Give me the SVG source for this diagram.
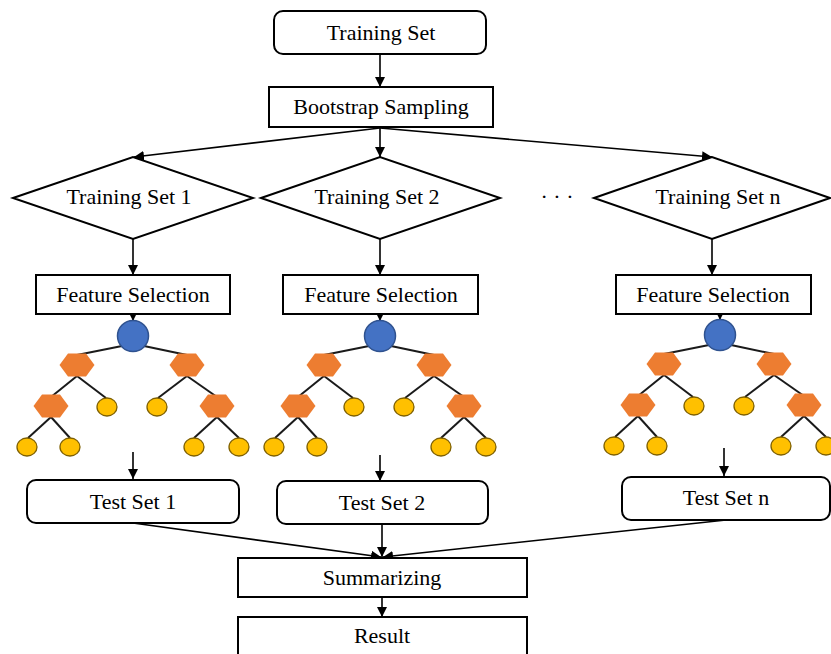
<svg xmlns="http://www.w3.org/2000/svg" width="831" height="654" viewBox="0 0 831 654">
  <style>
    .box { fill: #ffffff; stroke: #000000; stroke-width: 2; }
    .lbl { font-family: 'Liberation Serif', 'DejaVu Serif', serif; font-size: 22px; fill: #000000; text-anchor: middle; }
    .edge { fill: none; stroke: #000000; stroke-width: 1.6; }
    .branch { stroke: #1a1a1a; stroke-width: 2; }
    .root { fill: #4472C4; stroke: #2F528F; stroke-width: 1.5; }
    .split { fill: #ED7D31; }
    .leaf { fill: #FFC000; stroke: #7F6000; stroke-width: 1.3; }
  </style>
  <defs>
    <marker id="arrow" viewBox="0 0 10 10" refX="10" refY="5" markerWidth="10" markerHeight="10" markerUnits="userSpaceOnUse" orient="auto">
      <path d="M0,0 L10,5 L0,10 z" fill="#000000"/>
    </marker>
    <polygon id="hex" points="-17.5,0 -9,-11.5 9,-11.5 17.5,0 9,11.5 -9,11.5" class="split"/>
    <ellipse id="leafNode" rx="10" ry="9" class="leaf"/>
    <!-- decision tree glyph, root centred at the origin -->
    <g id="tree">
      <g class="branch">
        <line x1="-11" y1="10" x2="-56" y2="19"/>
        <line x1="11" y1="10" x2="54" y2="19"/>
        <line x1="-56" y1="40" x2="-82" y2="61"/>
        <line x1="-56" y1="40" x2="-27" y2="62"/>
        <line x1="54" y1="40" x2="25" y2="62"/>
        <line x1="54" y1="40" x2="84" y2="61"/>
        <line x1="-82" y1="81" x2="-105" y2="102"/>
        <line x1="-82" y1="81" x2="-63" y2="102"/>
        <line x1="84" y1="81" x2="61" y2="102"/>
        <line x1="84" y1="81" x2="106" y2="102"/>
      </g>
      <circle cx="0" cy="0" r="15.5" class="root"/>
      <use href="#hex" x="-56" y="29"/>
      <use href="#hex" x="54" y="29"/>
      <use href="#hex" x="-82" y="70"/>
      <use href="#hex" x="84" y="70"/>
      <use href="#leafNode" x="-26" y="71"/>
      <use href="#leafNode" x="24" y="71"/>
      <use href="#leafNode" x="-106" y="111"/>
      <use href="#leafNode" x="-63" y="111"/>
      <use href="#leafNode" x="61" y="111"/>
      <use href="#leafNode" x="106" y="111"/>
    </g>
  </defs>

  <rect width="831" height="654" fill="#ffffff"/>

  <!-- connectors -->
  <g id="connectors" class="edge" marker-end="url(#arrow)">
    <line x1="380" y1="54" x2="380" y2="87"/>
    <line x1="380" y1="128" x2="134" y2="157"/>
    <line x1="380" y1="128" x2="380" y2="157"/>
    <line x1="380" y1="128" x2="712" y2="157"/>
    <line x1="133" y1="239" x2="133" y2="275"/>
    <line x1="380" y1="239" x2="380" y2="275"/>
    <line x1="712" y1="239" x2="712" y2="275"/>
    <line x1="133" y1="314" x2="133" y2="321"/>
    <line x1="380" y1="314" x2="380" y2="321"/>
    <line x1="720" y1="314" x2="720" y2="320"/>
    <line x1="133" y1="452" x2="133" y2="479"/>
    <line x1="380" y1="455" x2="380" y2="481"/>
    <line x1="724" y1="448" x2="724" y2="476"/>
    <line x1="133" y1="523" x2="381" y2="557"/>
    <line x1="382" y1="524" x2="382" y2="557"/>
    <line x1="726" y1="520" x2="383" y2="557"/>
    <line x1="382" y1="597" x2="382" y2="617"/>
  </g>

  <g id="training-set">
    <rect x="274" y="11" width="212" height="43" rx="9" class="box"/>
    <text x="381" y="40" class="lbl">Training Set</text>
  </g>
  <g id="bootstrap">
    <rect x="269" y="87" width="224" height="40" class="box"/>
    <text x="381" y="114" class="lbl">Bootstrap Sampling</text>
  </g>

  <g id="training-set-1">
    <polygon points="13,198 133,157 253,198 133,239" class="box"/>
    <text x="129" y="204" class="lbl">Training Set 1</text>
  </g>
  <g id="training-set-2">
    <polygon points="261,198 380,157 500,198 380,239" class="box"/>
    <text x="377" y="204" class="lbl">Training Set 2</text>
  </g>
  <g id="training-set-n">
    <polygon points="594,198 712,157 830,198 712,239" class="box"/>
    <text x="718" y="204" class="lbl">Training Set n</text>
  </g>
  <text x="557" y="204" class="lbl">· · ·</text>

  <g id="feature-selection-1">
    <rect x="36" y="275" width="194" height="39" class="box"/>
    <text x="133" y="302" class="lbl">Feature Selection</text>
  </g>
  <g id="feature-selection-2">
    <rect x="283" y="275" width="195" height="39" class="box"/>
    <text x="381" y="302" class="lbl">Feature Selection</text>
  </g>
  <g id="feature-selection-n">
    <rect x="616" y="275" width="195" height="39" class="box"/>
    <text x="713" y="302" class="lbl">Feature Selection</text>
  </g>

  <g id="tree-1"><use href="#tree" x="133" y="336"/></g>
  <g id="tree-2"><use href="#tree" x="380" y="336"/></g>
  <g id="tree-n"><use href="#tree" x="720" y="335"/></g>

  <g id="test-set-1">
    <rect x="27" y="480" width="212" height="43" rx="9" class="box"/>
    <text x="133" y="509" class="lbl">Test Set 1</text>
  </g>
  <g id="test-set-2">
    <rect x="277" y="481" width="211" height="43" rx="9" class="box"/>
    <text x="382" y="510" class="lbl">Test Set 2</text>
  </g>
  <g id="test-set-n">
    <rect x="622" y="477" width="208" height="43" rx="9" class="box"/>
    <text x="726" y="505" class="lbl">Test Set n</text>
  </g>

  <g id="summarizing">
    <rect x="238" y="558" width="289" height="39" class="box"/>
    <text x="382" y="585" class="lbl">Summarizing</text>
  </g>
  <g id="result">
    <rect x="238" y="617" width="289" height="45" class="box"/>
    <text x="382" y="643" class="lbl">Result</text>
  </g>
</svg>
